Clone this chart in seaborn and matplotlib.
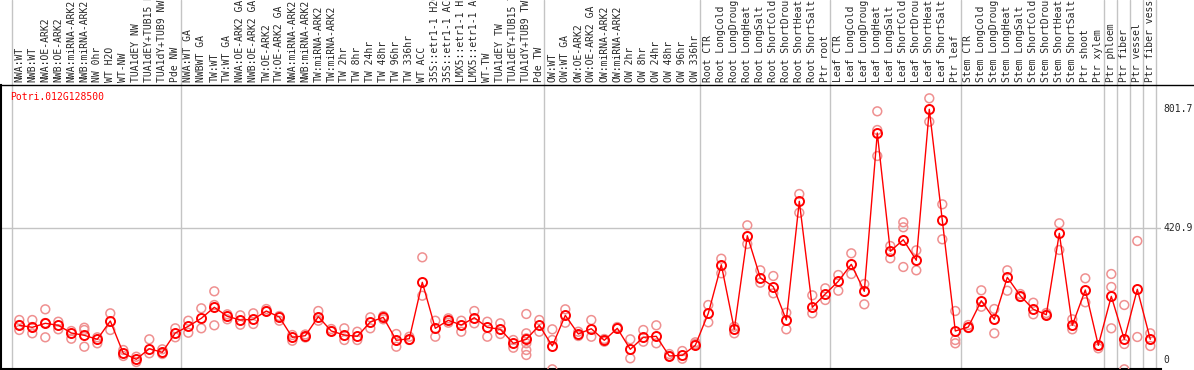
import numpy as np
import pandas as pd
import matplotlib
matplotlib.use("Agg")
import matplotlib.pyplot as plt
from matplotlib.lines import Line2D
import seaborn as sns

# sample names, in plot order
samples = [
    "NWA:WT", "NWB:WT", "NWA:OE-ARK2", "NWB:OE-ARK2", "NWA:miRNA-ARK2",
    "NWB:miRNA-ARK2", "NW 0hr", "WT H2O", "WT-NW", "TUA1dEY NW",
    "TUA1dEY+TUB15 NW", "TUA1dY+TUB9 NW", "Pde NW",
    "NWA:WT GA", "NWBWT GA", "TW:WT", "TW:WT GA", "NWA:OE-ARK2 GA",
    "NWB:OE-ARK2 GA", "TW:OE-ARK2", "TW:OE-ARK2 GA", "NWA:miRNA-ARK2",
    "NWB:miRNA-ARK2", "TW:miRNA-ARK2", "TW:miRNA-ARK2", "TW 2hr", "TW 8hr",
    "TW 24hr", "TW 48hr", "TW 96hr", "TW 336hr", "WT ACC", "35S::etr1-1 H2O",
    "35S::etr1-1 ACC", "LMX5::etr1-1 H2O", "LMX5::etr1-1 ACC", "WT-TW",
    "TUA1dEY TW", "TUA1dEY+TUB15 TW", "TUA1dY+TUB9 TW", "Pde TW",
    "OW:WT", "OW:WT GA", "OW:OE-ARK2", "OW:OE-ARK2 GA", "OW:miRNA-ARK2",
    "OW:miRNA-ARK2", "OW 2hr", "OW 8hr", "OW 24hr", "OW 48hr", "OW 96hr",
    "OW 336hr",
    "Root CTR", "Root LongCold", "Root LongDrought", "Root LongHeat",
    "Root LongSalt", "Root ShortCold", "Root ShortDrought", "Root ShortHeat",
    "Root ShortSalt", "Ptr root",
    "Leaf CTR", "Leaf LongCold", "Leaf LongDrought", "Leaf LongHeat",
    "Leaf LongSalt", "Leaf ShortCold", "Leaf ShortDrought", "Leaf ShortHeat",
    "Leaf ShortSalt", "Ptr leaf",
    "Stem CTR", "Stem LongCold", "Stem LongDrought", "Stem LongHeat",
    "Stem LongSalt", "Stem ShortCold", "Stem ShortDrought", "Stem ShortHeat",
    "Stem ShortSalt", "Ptr shoot", "Ptr xylem",
    "Ptr phloem", "Ptr fiber", "Ptr vessel", "Ptr fiber vessel",
]

# mean expression per sample
means = [
    110.4, 104.0, 116.8, 110.4, 85.8, 78.4, 65.6, 124.2, 20.8, 1.6,
    35.5, 24.0, 85.8, 107.2, 132.8, 168.0, 139.2, 127.4, 129.6, 156.2,
    137.0, 72.0, 77.1, 137.9, 92.2, 79.4, 75.2, 121.0, 136.0, 62.4,
    67.5, 248.0, 100.8, 126.4, 111.4, 134.7, 104.0, 97.6, 52.8, 65.6,
    110.4, 44.2, 142.4, 82.6, 99.5, 62.4, 100.8, 33.6, 72.0, 75.2,
    12.2, 14.4, 46.4, 148.8, 304.3, 97.6, 397.1, 262.7, 233.9, 127.4,
    507.2, 168.0, 210.6, 251.2, 305.6, 219.2, 725.8, 347.2, 384.3, 318.4,
    801.7, 446.4, 92.2, 105.0, 189.1, 129.6, 264.0, 205.1, 161.6, 144.3,
    404.8, 110.4, 223.4, 46.4, 203.2, 65.6, 225.6, 65.6,
]

# individual replicates per sample
replicates = [
    [127.4, 95.4, 111.4], [127.4, 84.8, 105.0], [161.6, 72.0, 117.8],
    [121.9, 97.6], [92.2, 67.5], [102.7, 95.4, 41.9], [72.0, 52.8],
    [148.8, 95.4], [31.4, 12.2], [9.9, -7.0], [65.6, 20.8], [33.6, 18.6],
    [100.8, 72.0], [125.1, 86.7], [164.8, 100.8], [219.2, 175.4, 110.4],
    [145.6, 129.6], [142.4, 112.3], [148.8, 114.6], [156.2, 162.6],
    [140.2, 125.1], [79.4, 61.1], [81.0, 71.4], [156.2, 125.1], [92.2, 98.6],
    [100.8, 63.4], [89.9, 63.4], [136.0, 100.8], [140.2, 129.6], [82.6, 41.9],
    [73.9, 63.4], [328.0, 205.1], [125.1, 73.9], [132.8, 118.7], [125.1, 89.9],
    [156.2, 116.8], [121.9, 73.9], [116.8, 82.6], [63.4, 38.7],
    [146.6, 84.8, 68.8, 52.8, 31.4, 15.4], [127.4, 89.9], [97.6, 63.4, -30.4],
    [161.6, 118.7], [89.9, 76.2], [127.4, 73.9], [57.9, 66.6], [100.8, 105.0],
    [65.6, 4.8], [95.4, 57.9], [110.4, 52.8], [12.2, 18.6], [28.2, 3.5],
    [56.0, 50.6], [175.4, 120.0], [323.5, 276.8], [105.9, 84.8], [430.4, 370.6],
    [286.4, 246.7], [268.2, 212.8], [150.7, 97.6], [530.6, 470.7],
    [206.4, 148.8], [228.8, 191.4], [271.4, 221.1], [340.8, 274.6],
    [242.6, 177.6], [795.2, 735.4, 652.2], [364.2, 324.8], [440.0, 424.0, 297.0],
    [350.4, 286.4], [836.8, 761.9], [497.6, 385.6], [156.2, 63.4, 52.8],
    [111.4, 101.8], [222.4, 169.9], [162.6, 84.8], [286.4, 221.1], [210.6, 201.0],
    [182.7, 145.6], [144.3, 149.8], [436.8, 351.4], [129.6, 97.6], [260.8, 184.0],
    [36.8, 44.2], [274.6, 233.0, 100.8], [175.4, 50.6, -30.4], [380.2, 73.0],
    [84.8, 44.2],
]

# group boundaries (between samples)
group_breaks = [-0.5, 12.5, 40.5, 52.5, 62.5, 72.5, 83.5, 84.5, 85.5, 86.5, 87.5]
gene = "Potri.012G128500"
y_labels = [801.7, 420.9, 0]

RED = "#ff0000"
PINK = "#ef9090"
GRID = "#c4c4c4"
MONO = "DejaVu Sans Mono"

df = pd.DataFrame({"pos": np.arange(len(samples)), "mean": means})
reps = pd.DataFrame(
    [(i, v) for i, vals in enumerate(replicates) for v in vals],
    columns=["pos", "value"],
)

sns.set_style("white")
plt.rcParams["font.family"] = [MONO, "DejaVu Sans"]

W, H = 1194, 370
fig = plt.figure(figsize=(W / 100, H / 100), dpi=100)
left_px, right_px, top_px, bot_px = 1, 1161, 85, 368.5
ax = fig.add_axes([left_px / W, 1 - bot_px / H,
                   (right_px - left_px) / W, (bot_px - top_px) / H])

sns.scatterplot(data=reps, x="pos", y="value", ax=ax, marker="o", s=40,
                facecolor="none", edgecolor=PINK, linewidth=1.1, zorder=3)
sns.lineplot(data=df, x="pos", y="mean", ax=ax, color=RED, linewidth=1.0,
             marker="o", markersize=6.5, markerfacecolor="none",
             markeredgecolor=RED, markeredgewidth=1.4, zorder=4)

x0, step = 19.3, 13.0
ax.set_xlim((left_px - x0) / step, (right_px - x0) / step)
ax.set_ylim(-27.8, 879.4)

ax.axhline(420.9, color=GRID, linewidth=1.0, zorder=1)
ext = 1 + top_px / (bot_px - top_px)
for b in group_breaks:
    ax.axvline(b - 0.1, ymin=0, ymax=ext, color=GRID, linewidth=1.0,
               clip_on=False, zorder=1)

ax.set_xticks(df["pos"])
ax.set_xticklabels(samples, rotation=90, fontsize=7, family=MONO)
ax.xaxis.set_ticks_position("top")
ax.tick_params(axis="x", length=0, pad=2, labelbottom=False, labeltop=True)
ax.set_yticks([])
ax.set_xlabel("")
ax.set_ylabel("")

for side in ["top", "right"]:
    ax.spines[side].set_visible(False)
for side in ["left", "bottom"]:
    ax.spines[side].set_color("black")
    ax.spines[side].set_linewidth(1.5)

# black rule under the sample names, full width
fig.add_artist(Line2D([0, 1], [1 - top_px / H] * 2, color="black",
                      linewidth=1.0, transform=fig.transFigure))

ax.text(9 / (right_px - left_px), 1 - 12 / (bot_px - top_px), gene,
        transform=ax.transAxes, color=RED, fontsize=7, family=MONO,
        ha="left", va="center")

for v in y_labels:
    ax.text(1 + 2 / (right_px - left_px), v, f"{v:g}",
            transform=ax.get_yaxis_transform(), fontsize=7, family=MONO,
            ha="left", va="center", clip_on=False)

fig.savefig("out.png", dpi=100)
